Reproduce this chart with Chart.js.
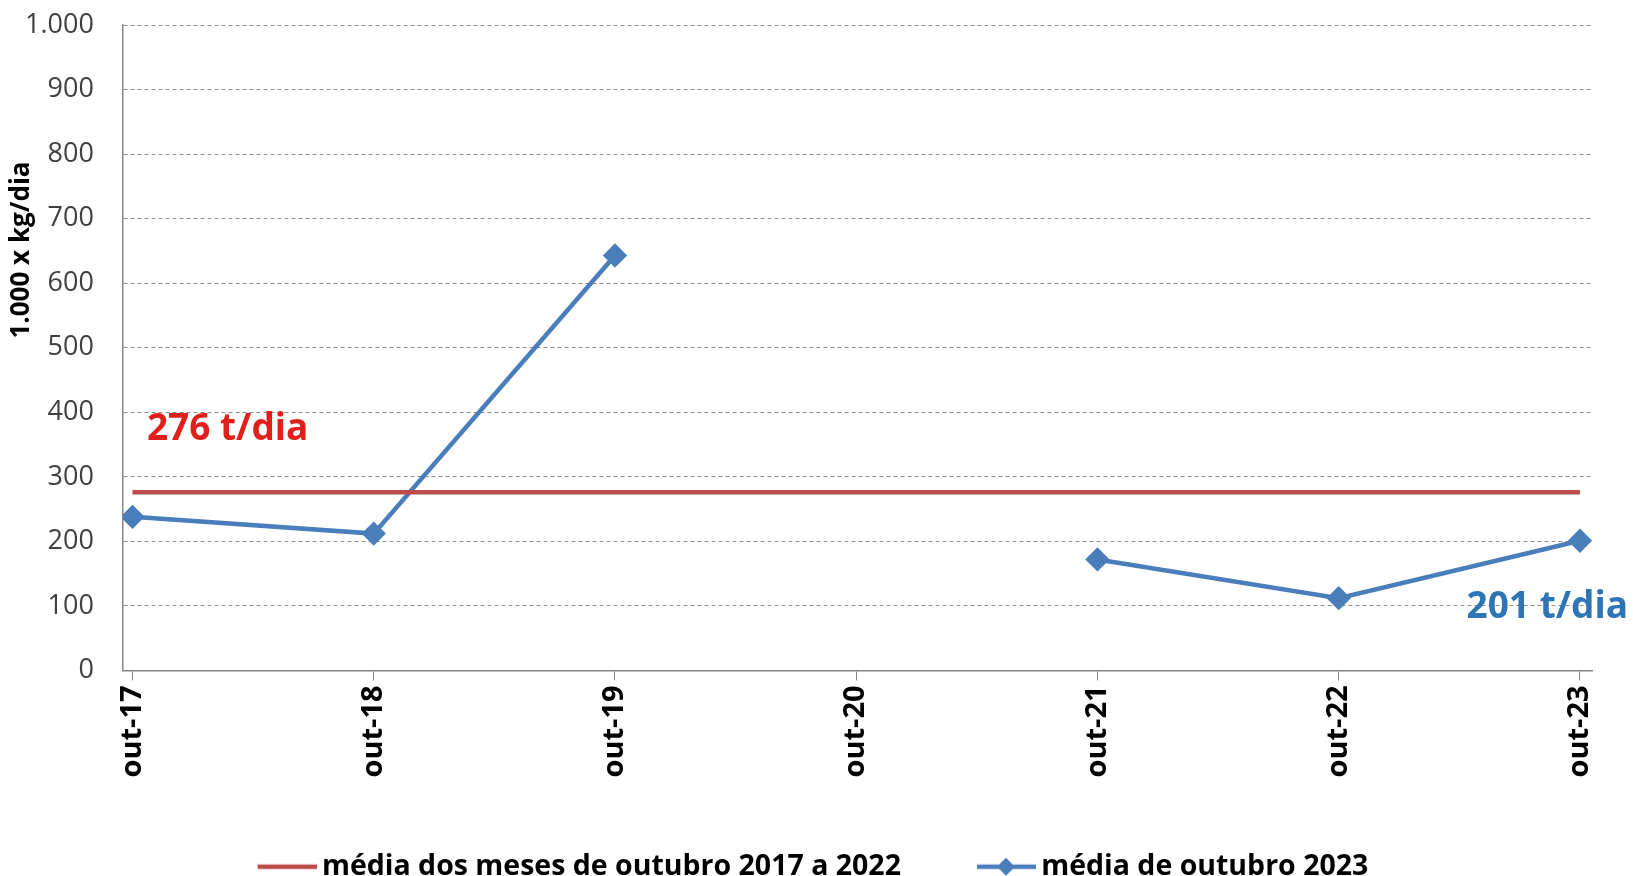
<!DOCTYPE html>
<html lang="pt">
<head>
  <meta charset="UTF-8" />
  <title>média de outubro</title>
  <script src="https://cdn.jsdelivr.net/npm/chart.js"></script>
  <style>
    body { margin: 0; background: #fff; overflow: hidden; }
    #wrap { width: 1637px; height: 911px; margin: -20px 0 0 -4px; }
  </style>
</head>
<body>
  <div id="wrap"><canvas id="chart"></canvas></div>

  <script>
    const categories = ['out-17', 'out-18', 'out-19', 'out-20', 'out-21', 'out-22', 'out-23'];
    const mediaAnterior = [276, 276, 276, 276, 276, 276, 276];
    const media2023 = [238, 212, 643, null, 172, 112, 201];
    const yTicks = [0, 100, 200, 300, 400, 500, 600, 700, 800, 900, 1000];

    const FONT = '"Open Sans", "Noto Sans", sans-serif';
    const RED = '#BE4B48';
    const BLUE = '#4A7EBB';

    // legend swatches: plain line for the average, line + diamond for 2023
    // (15px empty on the left keeps the gap between legend items)
    function swatch(color, diamond) {
      const c = document.createElement('canvas');
      c.width = 74; c.height = 22;
      const g = c.getContext('2d');
      g.strokeStyle = color;
      g.lineWidth = 4.5;
      g.beginPath(); g.moveTo(15, 11); g.lineTo(74, 11); g.stroke();
      if (diamond) {
        g.fillStyle = color;
        g.beginPath();
        g.moveTo(44, 2); g.lineTo(53, 11); g.lineTo(44, 20); g.lineTo(35, 11);
        g.closePath(); g.fill();
      }
      return c;
    }

    const pts = arr => arr.map((v, i) => ({ x: i, y: v }));

    const extras = {
      id: 'extras',
      afterLayout(chart) {
        // nudge the legend a little to the right
        chart.legend.left += 16;
        chart.legend.right += 16;
      },
      afterDraw(chart) {
        const { ctx, scales } = chart;
        const x = scales.x, y = scales.y;
        ctx.save();
        ctx.font = 'bold 37px ' + FONT;
        ctx.textBaseline = 'middle';
        ctx.fillStyle = '#E0201B';
        ctx.textAlign = 'left';
        ctx.fillText('276 t/dia', x.getPixelForValue(0.06), y.getPixelForValue(374));
        ctx.fillStyle = '#2E75B6';
        ctx.fillText('201 t/dia', x.getPixelForValue(5.53), y.getPixelForValue(98));

        // y axis title
        ctx.translate(26, 270);
        ctx.rotate(-Math.PI / 2);
        ctx.textAlign = 'center';
        ctx.fillStyle = '#000';
        ctx.font = 'bold 26px ' + FONT;
        ctx.fillText('1.000 x kg/dia', 0, 0);
        ctx.restore();
      }
    };

    new Chart(document.getElementById('chart'), {
      type: 'line',
      data: {
        datasets: [
          {
            label: 'média dos meses de outubro 2017 a 2022',
            data: pts(mediaAnterior),
            borderColor: RED,
            backgroundColor: RED,
            borderWidth: 4.5,
            pointRadius: 0
          },
          {
            label: 'média de outubro 2023',
            data: pts(media2023),
            borderColor: BLUE,
            backgroundColor: BLUE,
            borderWidth: 4.5,
            pointStyle: 'rectRot',
            pointRadius: 9,
            pointHoverRadius: 9,
            spanGaps: false
          }
        ]
      },
      options: {
        responsive: true,
        maintainAspectRatio: false,
        animation: false,
        layout: { padding: { left: 0, right: 41, top: 0, bottom: 0 } },
        plugins: {
          tooltip: { enabled: false },
          legend: {
            position: 'bottom',
            labels: {
              usePointStyle: true,
              pointStyleWidth: 56,
              color: '#000',
              font: { family: FONT, size: 28.5, weight: 'bold' },
              padding: 70,
              generateLabels(chart) {
                return chart.data.datasets.map((ds, i) => ({
                  text: ds.label,
                  fontColor: '#000',
                  pointStyle: swatch(ds.borderColor, i === 1),
                  lineWidth: 0,
                  strokeStyle: 'transparent',
                  fillStyle: 'transparent',
                  datasetIndex: i
                }));
              }
            }
          }
        },
        scales: {
          x: {
            type: 'linear',
            min: -0.04,
            max: 6.05,
            afterBuildTicks(scale) {
              scale.ticks = categories.map((c, i) => ({ value: i }));
            },
            ticks: {
              callback: v => categories[v],
              minRotation: 90,
              maxRotation: 90,
              color: '#000',
              padding: 5,
              font: { family: FONT, size: 29, weight: 'bold' }
            },
            grid: { drawOnChartArea: false, drawTicks: true, tickLength: 10, color: '#868686' },
            border: { color: '#868686', width: 1.5 }
          },
          y: {
            min: 0,
            max: 1000,
            afterBuildTicks(scale) {
              scale.ticks = yTicks.map(v => ({ value: v }));
            },
            ticks: {
              callback: v => v.toLocaleString('pt-BR'),
              color: '#404040',
              padding: 29,
              font: { family: FONT, size: 27 }
            },
            grid: {
              color: '#8C8C8C',
              lineWidth: 1,
              drawTicks: false
            },
            border: { color: '#868686', width: 1.5, dash: [4, 3] }
          }
        }
      },
      plugins: [extras]
    });
  </script>
</body>
</html>
